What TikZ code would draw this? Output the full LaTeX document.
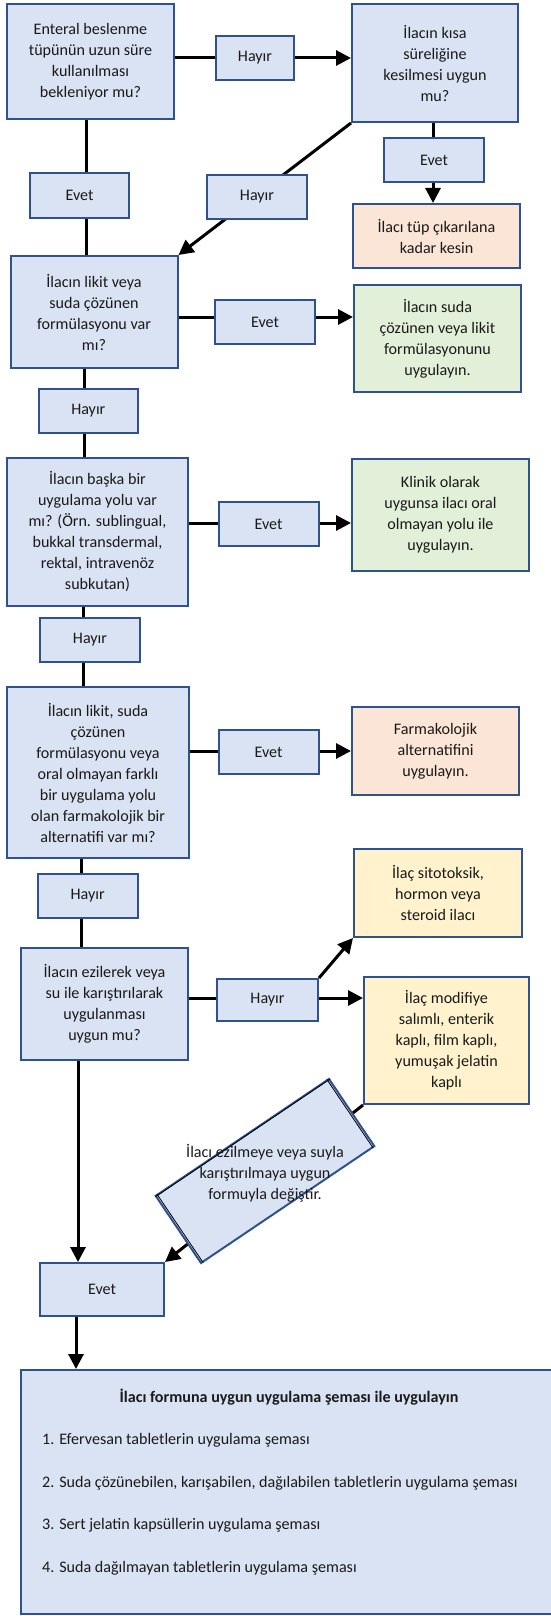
\documentclass[tikz,border=0pt]{standalone}
\usepackage{fontspec}
\setmainfont{Carlito}
\usetikzlibrary{arrows.meta,calc}
\definecolor{qblue}{HTML}{DAE3F3}
\definecolor{bord}{HTML}{2F528F}
\definecolor{qorange}{HTML}{FBE5D6}
\definecolor{qgreen}{HTML}{E2F0D9}
\definecolor{qyellow}{HTML}{FFF2CC}
\definecolor{txt}{HTML}{1A1A1A}
\pgfdeclarelayer{bg}
\pgfsetlayers{bg,main}
\newcommand{\myfs}{\fontsize{16.1}{21}\selectfont}
\tikzset{
  qbox/.style={draw=bord, fill=qblue, line width=2pt, align=center, inner sep=0pt, font=\myfs, text=txt},
  sz/.style 2 args={minimum width=#1pt, minimum height=#2pt},
  conn/.style={line width=3pt},
  arr/.style={line width=3pt, -{Triangle[length=15pt,width=15pt]}},
  plain/.style={inner sep=0pt, font=\myfs, align=center, text=txt},
}
\begin{document}
\begin{tikzpicture}[x=1pt,y=-1pt]
\useasboundingbox (0,0) rectangle (551,1616);
\clip (0,0) rectangle (551,1616);

% main column
\node[qbox, sz={167}{115}] (b1) at (90.5,61.5) {Enteral beslenme\\tüpünün uzun süre\\kullanılması\\bekleniyor mu?};
\node[qbox, sz={78}{44}] (h1) at (255,58) {Hayır};
\node[qbox, sz={166}{118}] (b2) at (435,63) {İlacın kısa\\süreliğine\\kesilmesi uygun\\mu?};
\node[qbox, sz={100}{44}] (e2) at (434,160) {Evet};
\node[qbox, sz={167}{64}, fill=qorange] (o1) at (436.5,236) {İlacı tüp çıkarılana\\kadar kesin};
\node[qbox, sz={99}{45}] (ev1) at (79.5,195.5) {Evet};
\node[qbox, sz={100}{44}] (h2) at (257,197) {Hayır};

\node[qbox, sz={167}{112}] (b3) at (94,312) {İlacın likit veya\\suda çözünen\\formülasyonu var\\mı?};
\node[qbox, sz={100}{44}] (ev3) at (265,322) {Evet};
\node[qbox, sz={167}{107}, fill=qgreen] (g1) at (437.5,338.5) {İlacın suda\\çözünen veya likit\\formülasyonunu\\uygulayın.};
\node[qbox, sz={99}{44}] (h3) at (88.3,411) {Hayır};

\node[qbox, sz={181}{148}] (b4) at (97.5,532) {İlacın başka bir\\uygulama yolu var\\mı? (Örn. sublingual,\\bukkal transdermal,\\rektal, intravenöz\\subkutan)};
\node[qbox, sz={100}{44}] (ev4) at (268.6,524) {Evet};
\node[qbox, sz={177}{112}, fill=qgreen] (k) at (440.5,515) {Klinik olarak\\uygunsa ilacı oral\\olmayan yolu ile\\uygulayın.};
\node[qbox, sz={100}{44}] (h4) at (90,640) {Hayır};

\node[qbox, sz={182}{171}] (b5) at (98,772.5) {İlacın likit, suda\\çözünen\\formülasyonu veya\\oral olmayan farklı\\bir uygulama yolu\\olan farmakolojik bir\\alternatifi var mı?};
\node[qbox, sz={100}{44}] (ev5) at (268.6,752) {Evet};
\node[qbox, sz={167}{88}, fill=qorange] (f) at (435.5,751) {Farmakolojik\\alternatifini\\uygulayın.};
\node[qbox, sz={100}{44}] (h5) at (87.6,896) {Hayır};
\node[qbox, sz={168}{88}, fill=qyellow] (y1) at (438,893) {İlaç sitotoksik,\\hormon veya\\steroid ilacı};

\node[qbox, sz={167}{112}] (b6) at (104.5,1004) {İlacın ezilerek veya\\su ile karıştırılarak\\uygulanması\\uygun mu?};
\node[qbox, sz={101}{42}] (h6) at (267.5,1000) {Hayır};
\node[qbox, sz={165}{127}, fill=qyellow] (y2) at (446.5,1040.5) {İlaç modifiye\\salımlı, enterik\\kaplı, film kaplı,\\yumuşak jelatin\\kaplı};

\node[qbox, sz={209}{81}, rotate=34] (rot) at (265,1171) {};
\draw[black, line width=0.8pt]
  ($(rot.north west)!3pt!(rot.north east)$) -- ($(rot.south west)!3pt!(rot.south east)$);
\draw[black, line width=0.8pt]
  ($(rot.north east)!3pt!(rot.north west)$) -- ($(rot.south east)!3pt!(rot.south west)$);
\draw[black, line width=0.8pt]
  ($(rot.north west)!1.6pt!-90:(rot.north east)$) -- ($(rot.north east)!1.6pt!90:(rot.north west)$);
\node[plain] (rottext) at (265,1173) {İlacı ezilmeye veya suyla\\karıştırılmaya uygun\\formuyla değiştir.};

\node[qbox, sz={124}{53}] (ev6) at (102,1289.5) {Evet};

\node[qbox, sz={536}{244}] (bot) at (289,1492) {};
\node[plain, font=\myfs\bfseries] (t0) at (289,1397) {İlacı formuna uygun uygulama şeması ile uygulayın};
\node[plain, anchor=west] (t1) at (42,1440) {1. Efervesan tabletlerin uygulama şeması};
\node[plain, anchor=west] (t2) at (42,1483) {2. Suda çözünebilen, karışabilen, dağılabilen tabletlerin uygulama şeması};
\node[plain, anchor=west] (t3) at (42,1525) {3. Sert jelatin kapsüllerin uygulama şeması};
\node[plain, anchor=west] (t4) at (42,1568) {4. Suda dağılmayan tabletlerin uygulama şeması};

\begin{pgfonlayer}{bg}
\draw[conn] (h1.west -| b1.east) -- (h1.west);
\draw[arr] (h1.east) -- (h1.east -| b2.west);
\draw[conn] ([xshift=-4.5pt]b1.south) -- ([xshift=-4.5pt]b1.south |- b3.north);
\draw[arr] ([xshift=-2pt]b2.south) -- ([xshift=-2pt]b2.south |- o1.north);
\draw[arr] (b2.south west) -- (b3.north east);
\draw[arr] ([yshift=-5pt]b3.east) -- ([yshift=-5pt]b3.east -| g1.west);
\draw[conn] ([xshift=-10pt]b3.south) -- ([xshift=-10pt]b3.south |- b4.north);
\draw[arr] ([yshift=9pt]b4.east) -- ([yshift=9pt]b4.east -| k.west);
\draw[conn] ([xshift=-14.5pt]b4.south) -- ([xshift=-14.5pt]b4.south |- b5.north);
\draw[arr] ([yshift=21.5pt]b5.east) -- ([yshift=21.5pt]b5.east -| f.west);
\draw[conn] ([xshift=-17pt]b5.south) -- ([xshift=-17pt]b5.south |- b6.north);
\draw[arr] ([yshift=6pt]b6.east) -- ([yshift=6pt]b6.east -| y2.west);
\draw[arr] (h6.north east) -- (y1.south west);
\draw[arr] (y2.south west) -- (ev6.north east);
\draw[arr] ([xshift=-26.5pt]b6.south) -- ([xshift=-26.5pt]b6.south |- ev6.north);
\draw[arr] ([xshift=-26pt]ev6.south) -- ([xshift=-26pt]ev6.south |- bot.north);
\end{pgfonlayer}
\end{tikzpicture}
\end{document}
